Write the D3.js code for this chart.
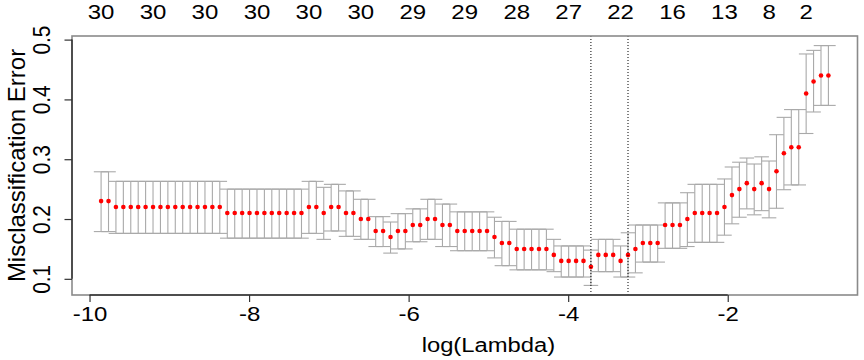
<!DOCTYPE html>
<html>
<head>
<meta charset="utf-8">
<script src="https://cdn.jsdelivr.net/npm/d3@7"></script>
<style>
  body { margin: 0; background: #fff; }
  text { font-family: "Liberation Sans", Arial, Helvetica, sans-serif; }
</style>
</head>
<body>
<div id="wrapper"></div>
<script>
// log(lambda) path, left (small lambda) to right
const logLambda = [
    -9.855, -9.762, -9.669, -9.576, -9.483, -9.390, -9.297, -9.204, -9.111, -9.018,
    -8.925, -8.832, -8.739, -8.646, -8.553, -8.460, -8.367, -8.273, -8.180, -8.087,
    -7.994, -7.901, -7.808, -7.715, -7.622, -7.529, -7.436, -7.343, -7.250, -7.157,
    -7.064, -6.971, -6.878, -6.785, -6.692, -6.599, -6.506, -6.413, -6.320, -6.227,
    -6.134, -6.041, -5.948, -5.855, -5.762, -5.669, -5.576, -5.483, -5.390, -5.297,
    -5.203, -5.110, -5.017, -4.924, -4.831, -4.738, -4.645, -4.552, -4.459, -4.366,
    -4.273, -4.180, -4.087, -3.994, -3.901, -3.808, -3.715, -3.622, -3.529, -3.436,
    -3.343, -3.250, -3.157, -3.064, -2.971, -2.878, -2.785, -2.692, -2.599, -2.506,
    -2.413, -2.320, -2.227, -2.134, -2.041, -1.947, -1.854, -1.761, -1.668, -1.575,
    -1.482, -1.389, -1.296, -1.203, -1.110, -1.017, -0.924, -0.831, -0.738
];

const cvm = [
    0.23, 0.23, 0.22, 0.22, 0.22, 0.22, 0.22, 0.22, 0.22, 0.22,
    0.22, 0.22, 0.22, 0.22, 0.22, 0.22, 0.22, 0.21, 0.21, 0.21,
    0.21, 0.21, 0.21, 0.21, 0.21, 0.21, 0.21, 0.21, 0.22, 0.22,
    0.21, 0.22, 0.22, 0.21, 0.21, 0.20, 0.20, 0.18, 0.18, 0.17,
    0.18, 0.18, 0.19, 0.19, 0.20, 0.20, 0.19, 0.19, 0.18, 0.18,
    0.18, 0.18, 0.18, 0.17, 0.16, 0.16, 0.15, 0.15, 0.15, 0.15,
    0.15, 0.14, 0.13, 0.13, 0.13, 0.13, 0.12, 0.14, 0.14, 0.14,
    0.13, 0.14, 0.15, 0.16, 0.16, 0.16, 0.19, 0.19, 0.19, 0.20,
    0.21, 0.21, 0.21, 0.21, 0.22, 0.24, 0.25, 0.26, 0.25, 0.26,
    0.25, 0.28, 0.31, 0.32, 0.32, 0.41, 0.43, 0.44, 0.44
];

const cvup = [
    0.279, 0.279, 0.263, 0.263, 0.263, 0.263, 0.263, 0.263, 0.263, 0.263,
    0.263, 0.263, 0.263, 0.263, 0.263, 0.263, 0.263, 0.250, 0.250, 0.250,
    0.250, 0.250, 0.250, 0.250, 0.250, 0.250, 0.250, 0.250, 0.263, 0.263,
    0.253, 0.258, 0.258, 0.247, 0.247, 0.233, 0.233, 0.204, 0.204, 0.195,
    0.209, 0.209, 0.217, 0.217, 0.233, 0.233, 0.225, 0.225, 0.212, 0.212,
    0.212, 0.212, 0.212, 0.203, 0.196, 0.196, 0.183, 0.183, 0.183, 0.183,
    0.183, 0.166, 0.155, 0.155, 0.155, 0.155, 0.148, 0.166, 0.166, 0.166,
    0.155, 0.177, 0.190, 0.190, 0.190, 0.190, 0.227, 0.227, 0.227, 0.244,
    0.258, 0.258, 0.258, 0.258, 0.267, 0.287, 0.295, 0.302, 0.292, 0.304,
    0.297, 0.341, 0.370, 0.383, 0.383, 0.476, 0.482, 0.490, 0.490
];

const cvlo = [
    0.179, 0.179, 0.176, 0.176, 0.176, 0.176, 0.176, 0.176, 0.176, 0.176,
    0.176, 0.176, 0.176, 0.176, 0.176, 0.176, 0.176, 0.168, 0.168, 0.168,
    0.168, 0.168, 0.168, 0.168, 0.168, 0.168, 0.168, 0.168, 0.176, 0.176,
    0.166, 0.180, 0.180, 0.171, 0.171, 0.166, 0.166, 0.154, 0.154, 0.143,
    0.150, 0.150, 0.162, 0.162, 0.166, 0.166, 0.154, 0.154, 0.147, 0.147,
    0.147, 0.147, 0.147, 0.135, 0.122, 0.122, 0.115, 0.115, 0.115, 0.115,
    0.115, 0.112, 0.103, 0.103, 0.103, 0.103, 0.089, 0.112, 0.112, 0.112,
    0.103, 0.103, 0.110, 0.128, 0.128, 0.128, 0.151, 0.151, 0.151, 0.154,
    0.161, 0.161, 0.161, 0.161, 0.173, 0.192, 0.203, 0.217, 0.207, 0.214,
    0.202, 0.218, 0.249, 0.257, 0.257, 0.343, 0.379, 0.390, 0.390
];

// number of nonzero coefs shown on top (index into logLambda)
const nzeroIdx = [0, 7, 14, 21, 28, 35, 42, 49, 56, 63, 70, 77, 84, 90, 95];
const nzeroLabels = ["30", "30", "30", "30", "30", "30", "29", "29", "28", "27", "22", "16", "13", "8", "2"];

const xTicks = [-10, -8, -6, -4, -2];
const yTicks = [0.1, 0.2, 0.3, 0.4, 0.5];

const lambdaMin = -3.715;
const lambda1se = -3.250;

async function buildPlot() {
    var dimension = {
        width: 864,
        height: 360,
        margin: {
            top: 36,
            left: 72,
            bottom: 65,
            right: 6.5
        }
    };
    dimension.boundedWidth = dimension.width - dimension.margin.left - dimension.margin.right;
    dimension.boundedHeight = dimension.height - dimension.margin.top - dimension.margin.bottom;

    const data = logLambda.map((l, i) => ({ x: l, y: cvm[i], up: cvup[i], lo: cvlo[i] }));

    // R style 4% extension of the ranges
    const xr = d3.extent(logLambda);
    const xpad = (xr[1] - xr[0]) * 0.04;
    const yr = [d3.min(cvlo), d3.max(cvup)];
    const ypad = (yr[1] - yr[0]) * 0.04;

    const xScaler = d3.scaleLinear()
        .domain([xr[0] - xpad, xr[1] + xpad])
        .range([0, dimension.boundedWidth]);

    const yScaler = d3.scaleLinear()
        .domain([yr[0] - ypad, yr[1] + ypad])
        .range([dimension.boundedHeight, 0]);

    const svg = d3.select("#wrapper").append("svg")
        .attr("width", dimension.width)
        .attr("height", dimension.height);

    const bounds = svg.append("g")
        .attr("transform", `translate(${dimension.margin.left}, ${dimension.margin.top})`);

    // error bars
    const barw = (xr[1] - xr[0]) * 0.01;
    const bars = bounds.append("g")
        .attr("stroke", "#a9a9a9")
        .attr("stroke-width", 1.1)
        .attr("fill", "none");

    bars.selectAll("line.v")
        .data(data)
        .enter()
        .append("line")
        .attr("class", "v")
        .attr("x1", d => xScaler(d.x))
        .attr("x2", d => xScaler(d.x))
        .attr("y1", d => yScaler(d.up))
        .attr("y2", d => yScaler(d.lo));

    bars.selectAll("line.u")
        .data(data)
        .enter()
        .append("line")
        .attr("class", "u")
        .attr("x1", d => xScaler(d.x - barw))
        .attr("x2", d => xScaler(d.x + barw))
        .attr("y1", d => yScaler(d.up))
        .attr("y2", d => yScaler(d.up));

    bars.selectAll("line.l")
        .data(data)
        .enter()
        .append("line")
        .attr("class", "l")
        .attr("x1", d => xScaler(d.x - barw))
        .attr("x2", d => xScaler(d.x + barw))
        .attr("y1", d => yScaler(d.lo))
        .attr("y2", d => yScaler(d.lo));

    // points
    bounds.append("g")
        .selectAll("circle")
        .data(data)
        .enter()
        .append("circle")
        .attr("cx", d => xScaler(d.x))
        .attr("cy", d => yScaler(d.y))
        .attr("r", 2.3)
        .attr("fill", "#ff0000");

    // lambda.min / lambda.1se
    bounds.selectAll("line.ref")
        .data([lambdaMin, lambda1se])
        .enter()
        .append("line")
        .attr("class", "ref")
        .attr("x1", d => xScaler(d))
        .attr("x2", d => xScaler(d))
        .attr("y1", 0)
        .attr("y2", dimension.boundedHeight)
        .attr("stroke", "#000")
        .attr("stroke-width", 1)
        .attr("stroke-dasharray", "1,2");

    // box
    bounds.append("rect")
        .attr("x", 0)
        .attr("y", 0)
        .attr("width", dimension.boundedWidth)
        .attr("height", dimension.boundedHeight)
        .attr("fill", "none")
        .attr("stroke", "#8a8a8a")
        .attr("stroke-width", 1.6);

    // x axis
    const xAxis = bounds.append("g")
        .attr("transform", `translate(0, ${dimension.boundedHeight})`)
        .call(d3.axisBottom(xScaler).tickValues(xTicks).tickSize(7).tickSizeOuter(0));
    xAxis.select(".domain")
        .attr("d", `M${xScaler(xTicks[0])},0H${xScaler(xTicks[xTicks.length - 1])}`)
        .attr("stroke", "#333").attr("stroke-width", 1.5);
    xAxis.selectAll(".tick line").attr("stroke", "#333").attr("stroke-width", 1.2);
    xAxis.selectAll(".tick text").remove();
    xAxis.selectAll(".tick")
        .append("text")
        .attr("transform", "translate(0, 26) scale(1.2, 1)")
        .attr("text-anchor", "middle")
        .attr("fill", "#000")
        .style("font-size", "20px")
        .text(d => String(d));

    // y axis
    const yAxis = bounds.append("g")
        .call(d3.axisLeft(yScaler).tickValues(yTicks).tickSize(7.5).tickSizeOuter(0));
    yAxis.select(".domain")
        .attr("d", `M0,${yScaler(yTicks[0])}V${yScaler(yTicks[yTicks.length - 1])}`)
        .attr("stroke", "#333").attr("stroke-width", 1.5);
    yAxis.selectAll(".tick line").attr("stroke", "#333").attr("stroke-width", 1.2);
    yAxis.selectAll(".tick text").remove();
    yAxis.selectAll(".tick")
        .append("text")
        .attr("transform", "translate(-22, 0) rotate(-90) scale(1.04, 1.17)")
        .attr("text-anchor", "middle")
        .attr("fill", "#000")
        .style("font-size", "20px")
        .text(d => d3.format(".1f")(d));

    // nonzero counts on top
    bounds.append("g")
        .selectAll("text")
        .data(nzeroIdx)
        .enter()
        .append("text")
        .attr("transform", (d) => `translate(${xScaler(logLambda[d])}, -16.7) scale(1.2, 1)`)
        .attr("text-anchor", "middle")
        .style("font-size", "20px")
        .text((d, i) => nzeroLabels[i]);

    // titles
    svg.append("text")
        .attr("transform", `translate(${dimension.margin.left + xScaler(-5)}, 352) scale(1.19, 1)`)
        .attr("text-anchor", "middle")
        .style("font-size", "20px")
        .text("log(Lambda)");

    svg.append("text")
        .attr("transform", `translate(25, ${dimension.margin.top + dimension.boundedHeight / 2}) rotate(-90) scale(1.2, 1.17)`)
        .attr("text-anchor", "middle")
        .style("font-size", "20px")
        .text("Misclassification Error");
}

buildPlot()
</script>
</body>
</html>
